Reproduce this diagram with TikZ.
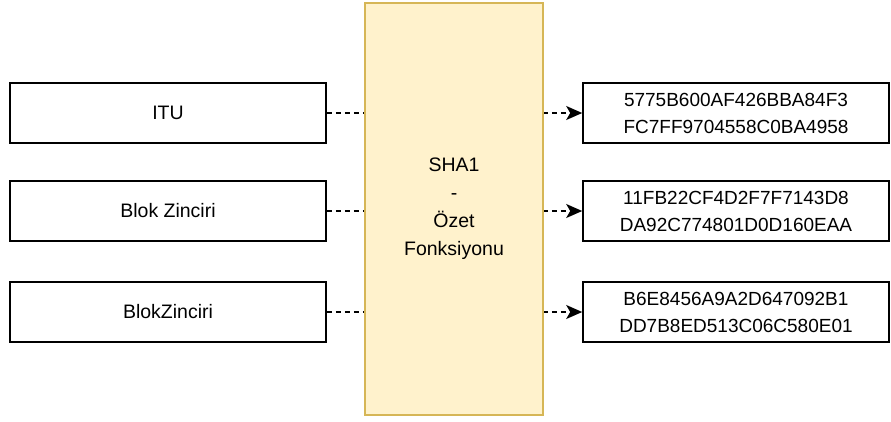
\documentclass[tikz,border=0pt]{standalone}
\usepackage{fontspec}
\setmainfont{Liberation Sans}
\usetikzlibrary{arrows.meta}
\begin{document}
\begin{tikzpicture}[x=1pt,y=-1pt,
  inbox/.style={draw=black,line width=1.6pt,fill=white,minimum width=316pt,minimum height=60pt,inner sep=0pt,
    font=\fontsize{19.5pt}{27pt}\selectfont,align=center},
  outbox/.style={draw=black,line width=1.6pt,fill=white,minimum width=306pt,minimum height=60pt,inner sep=0pt,
    font=\fontsize{19pt}{27pt}\selectfont,align=center},
  hashbox/.style={draw={rgb,255:red,214;green,182;blue,86},fill={rgb,255:red,255;green,242;blue,204},line width=1.6pt,
    minimum width=178pt,minimum height=412pt,inner sep=0pt,font=\fontsize{19.5pt}{28pt}\selectfont,align=center},
  link/.style={line width=1.6pt,dash pattern=on 5pt off 4pt,-{Stealth[length=16pt,width=14pt,inset=4pt]}}]
\useasboundingbox (0,0) rectangle (891,421);
\node[inbox] (l1) at (168,113) {ITU};
\node[inbox] (l2) at (168,211) {Blok Zinciri};
\node[inbox] (l3) at (168,312) {BlokZinciri};
\node[outbox] (r1) at (736,113) {5775B600AF426BBA84F3\\FC7FF9704558C0BA4958};
\node[outbox] (r2) at (736,211) {11FB22CF4D2F7F7143D8\\DA92C774801D0D160EAA};
\node[outbox] (r3) at (736,312) {B6E8456A9A2D647092B1\\DD7B8ED513C06C580E01};
\draw[link] (l1.east) -- (r1.west);
\draw[link] (l2.east) -- (r2.west);
\draw[link] (l3.east) -- (r3.west);
\node[hashbox] (h) at (454,209) {SHA1\\-\\Özet\\Fonksiyonu};
\end{tikzpicture}
\end{document}
